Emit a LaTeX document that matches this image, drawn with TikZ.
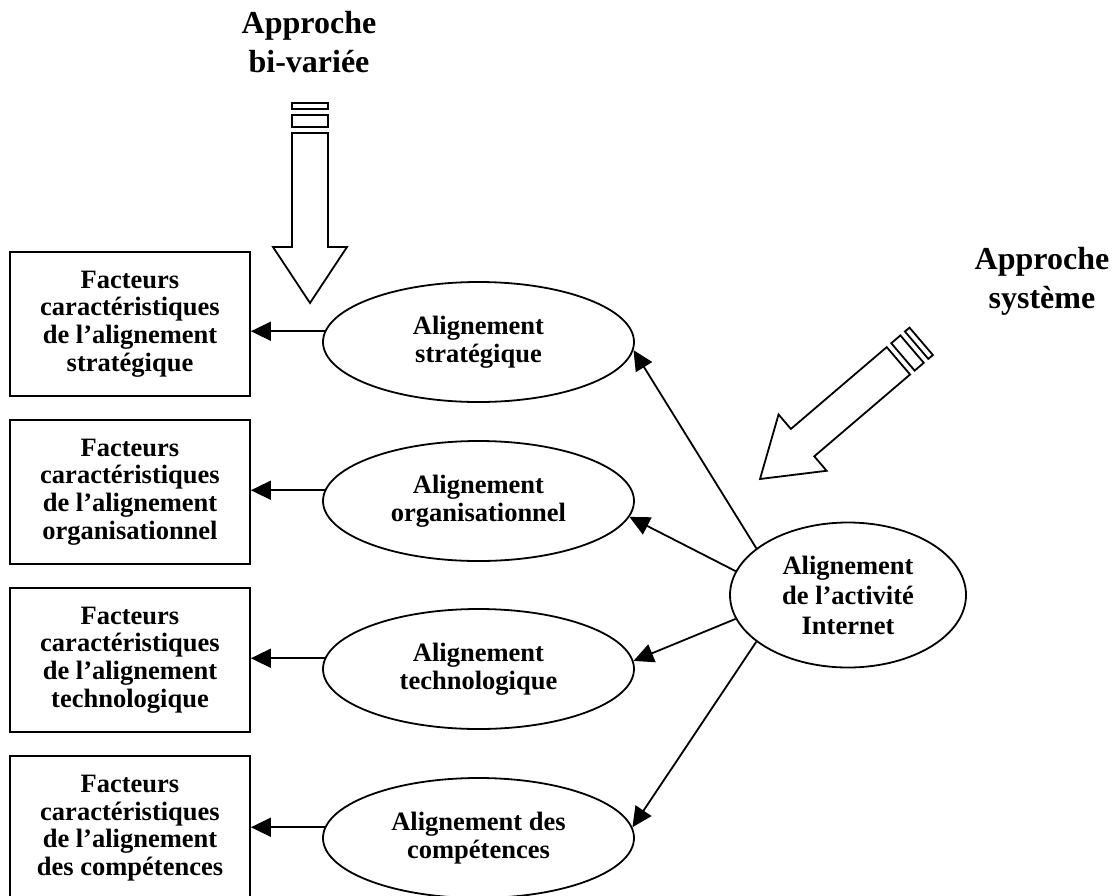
\documentclass[tikz,border=0pt]{standalone}
\usepackage{fontspec}
\setmainfont{Liberation Serif}
\usetikzlibrary{shapes.geometric,arrows.meta}

\tikzset{
	trait/.style={line width=1.8pt},
	facteur/.style={trait, draw, rectangle, minimum width=240pt, minimum height=144pt, inner sep=0pt, align=center, font=\bfseries\fontsize{26.5}{27.7}\selectfont},
	dimension/.style={trait, draw, ellipse, minimum width=311pt, minimum height=120pt, inner sep=0pt, align=center, font=\bfseries\fontsize{26.5}{28.5}\selectfont},
	titre/.style={inner sep=0pt, align=center, font=\bfseries\fontsize{32}{39}\selectfont},
	fleche/.style={trait, -{Triangle[length=20pt,width=19pt]}}
}

\newcommand{\grossefleche}[1]{%
	\draw[trait] (0,0) -- (-37,-56) -- (-18,-56) -- (-18,-#1) -- (18,-#1) -- (18,-56) -- (37,-56) -- cycle;
	\draw[trait] (-18,{-#1-6}) rectangle (18,{-#1-18});
	\draw[trait] (-18,{-#1-24}) rectangle (18,{-#1-30});
}

\begin{document}
\begin{tikzpicture}[x=1pt,y=-1pt]
	\useasboundingbox (0,0) rectangle (1114,895);

	\node[titre] (bivariee) at (309,42) {Approche\\bi-variée};
	\node[titre] (systeme) at (1042,281) {Approche\\système};

	\begin{scope}[shift={(310,303)}]
		\grossefleche{170}
	\end{scope}
	\begin{scope}[shift={(760,479)},rotate=-49.5]
		\grossefleche{182}
	\end{scope}

	\node[facteur] (f1) at (130,324) {Facteurs\\caractéristiques\\de l’alignement\\stratégique};
	\node[facteur] (f2) at (130,492) {Facteurs\\caractéristiques\\de l’alignement\\organisationnel};
	\node[facteur] (f3) at (130,660) {Facteurs\\caractéristiques\\de l’alignement\\technologique};
	\node[facteur] (f4) at (130,828) {Facteurs\\caractéristiques\\de l’alignement\\des compétences};

	\node[dimension] (s1) at (478.5,342) {Alignement\\stratégique};
	\node[dimension] (s2) at (478.5,501) {Alignement\\organisationnel};
	\node[dimension] (s3) at (478.5,669) {Alignement\\technologique};
	\node[dimension] (s4) at (478.5,838) {Alignement des\\compétences};

	\node[dimension, minimum width=236pt, minimum height=145pt, font=\bfseries\fontsize{26.5}{30}\selectfont] (internet) at (848,595) {Alignement\\de l’activité\\Internet};

	\draw[fleche] (s1.176) -- (s1.176 -| f1.east);
	\draw[fleche] (s2.176) -- (s2.176 -| f2.east);
	\draw[fleche] (s3.176) -- (s3.176 -| f3.east);
	\draw[fleche] (s4.176) -- (s4.176 -| f4.east);

	\draw[fleche] (internet.153) -- (s1.-3);
	\draw[fleche] (internet.168) -- (s2.-6);
	\draw[fleche] (internet.192) -- (s3.3);
	\draw[fleche] (internet.207) -- (s4.4);
\end{tikzpicture}
\end{document}
